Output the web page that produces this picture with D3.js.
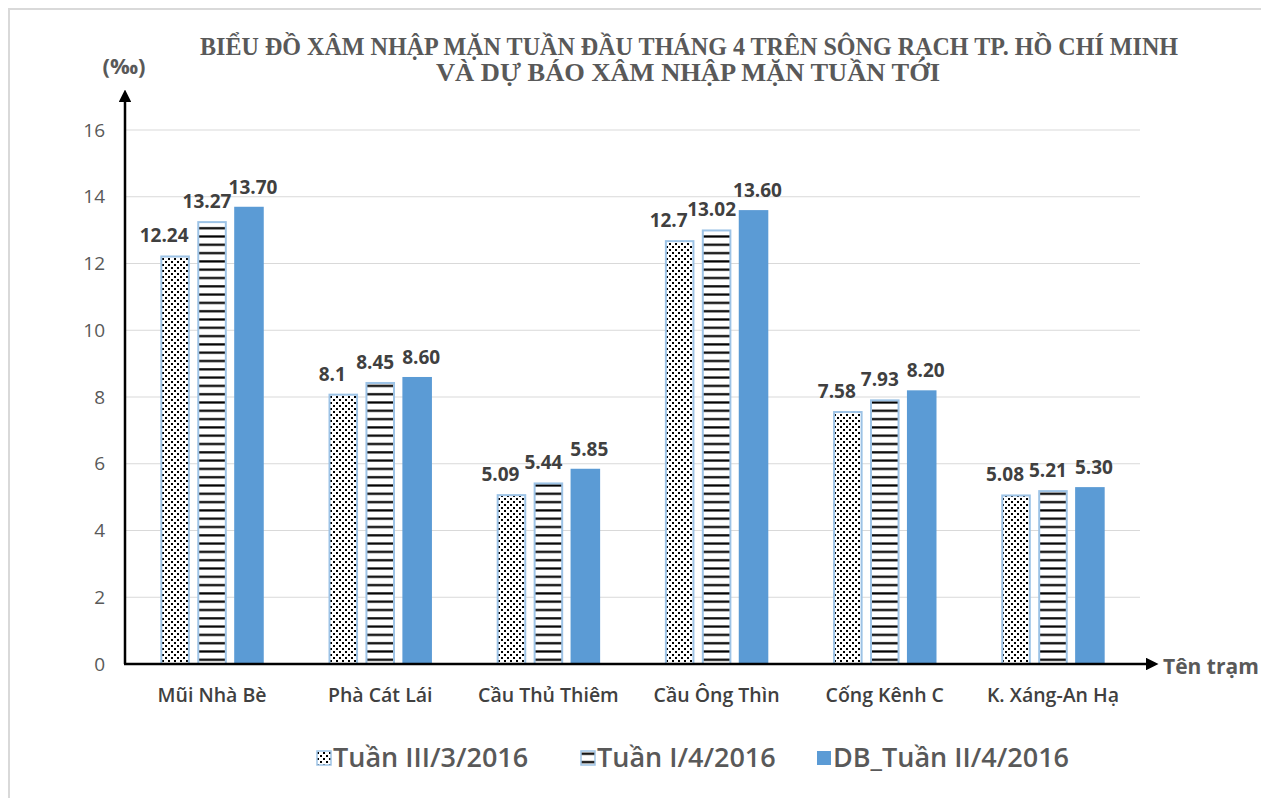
<!DOCTYPE html>
<html>
<head>
<meta charset="utf-8">
<script src="https://cdn.jsdelivr.net/npm/d3@7"></script>
<style>
  body { margin: 0; background: #fff; }
  svg { display: block; }
</style>
</head>
<body>
<svg id="chart" width="1261" height="798"></svg>
<script>
/* ── Data ─────────────────────────────────────────── */
const stations = ["Mũi Nhà Bè", "Phà Cát Lái", "Cầu Thủ Thiêm", "Cầu Ông Thìn", "Cống Kênh C", "K. Xáng-An Hạ"];
const seriesNames = ["Tuần III/3/2016", "Tuần I/4/2016", "DB_Tuần II/4/2016"];
const week3_3 = [12.24, 8.1, 5.09, 12.7, 7.58, 5.08];
const week1_4 = [13.27, 8.45, 5.44, 13.02, 7.93, 5.21];
const forecast = [13.70, 8.60, 5.85, 13.60, 8.20, 5.30];
const labels3_3 = ["12.24", "8.1", "5.09", "12.7", "7.58", "5.08"];
const labels1_4 = ["13.27", "8.45", "5.44", "13.02", "7.93", "5.21"];
const labelsFc = ["13.70", "8.60", "5.85", "13.60", "8.20", "5.30"];
const yTicks = [0, 2, 4, 6, 8, 10, 12, 14, 16];

(function () {
  const series = [
    { name: seriesNames[0], values: week3_3, labels: labels3_3, fill: "url(#dots)", stroke: "#9DC3E6", dx: -11 },
    { name: seriesNames[1], values: week1_4, labels: labels1_4, fill: "url(#stripes)", stroke: "#9DC3E6", dx: -5 },
    { name: seriesNames[2], values: forecast, labels: labelsFc, fill: "#5B9BD5", stroke: "none", dx: 4 }
  ];

  const svg = d3.select("#chart");
  const plotL = 125, plotR = 1140, plotT = 130, plotB = 664;
  const sans = "Open Sans, sans-serif";

  /* ── Patterns ───────────────────────────────────── */
  const defs = svg.append("defs");
  const dots = defs.append("pattern").attr("id", "dots")
    .attr("patternUnits", "userSpaceOnUse").attr("width", 6).attr("height", 6);
  dots.append("rect").attr("width", 6).attr("height", 6).attr("fill", "#fff");
  dots.append("rect").attr("x", 0).attr("y", 0).attr("width", 2).attr("height", 2).attr("fill", "#000");
  dots.append("rect").attr("x", 3).attr("y", 3).attr("width", 2).attr("height", 2).attr("fill", "#000");

  const stripes = defs.append("pattern").attr("id", "stripes")
    .attr("patternUnits", "userSpaceOnUse").attr("width", 8).attr("height", 8.3);
  stripes.append("rect").attr("width", 8).attr("height", 8.3).attr("fill", "#fff");
  stripes.append("rect").attr("x", 0).attr("y", 3).attr("width", 8).attr("height", 2.2).attr("fill", "#000");

  defs.append("marker").attr("id", "arrow")
    .attr("viewBox", "0 0 10 10").attr("refX", 0).attr("refY", 5)
    .attr("markerWidth", 5).attr("markerHeight", 5).attr("orient", "auto")
    .append("path").attr("d", "M0,0L10,5L0,10Z").attr("fill", "#000");

  /* ── Frame ──────────────────────────────────────── */
  svg.append("path")
    .attr("d", "M9,798V9H1261")
    .attr("fill", "none").attr("stroke", "#d9d9d9").attr("stroke-width", 2);

  /* ── Scales ─────────────────────────────────────── */
  const x0 = d3.scaleBand().domain(stations).range([plotL, plotR]).paddingInner(0.385).paddingOuter(0.21);
  const x1 = d3.scaleBand().domain(d3.range(3)).range([0, x0.bandwidth()]).paddingInner(0.2);
  const y = d3.scaleLinear().domain([0, 16]).range([plotB, plotT]);

  /* gridlines */
  svg.append("g").selectAll("line").data(yTicks.slice(1)).join("line")
    .attr("x1", plotL).attr("x2", plotR)
    .attr("y1", d => y(d)).attr("y2", d => y(d))
    .attr("stroke", "#d9d9d9").attr("stroke-width", 1);

  /* y tick labels */
  svg.append("g").selectAll("text").data(yTicks).join("text")
    .attr("x", 105).attr("y", d => y(d)).attr("dy", "0.35em")
    .attr("text-anchor", "end")
    .attr("font-family", sans).attr("font-size", 19)
    .attr("fill", "#595959").text(d => d);

  /* bars */
  const barsG = svg.append("g");
  series.forEach((s, i) => {
    const inset = s.stroke !== "none" ? 1 : 0;
    barsG.append("g").selectAll("rect").data(s.values).join("rect")
      .attr("x", (d, j) => x0(stations[j]) + x1(i) + inset)
      .attr("y", d => y(d) + inset)
      .attr("width", x1.bandwidth() - 2 * inset)
      .attr("height", d => plotB - y(d) - inset)
      .attr("fill", s.fill)
      .attr("stroke", s.stroke).attr("stroke-width", 2);
  });

  /* value labels */
  series.forEach((s, i) => {
    svg.append("g").selectAll("text").data(s.values).join("text")
      .attr("x", (d, j) => x0(stations[j]) + x1(i) + x1.bandwidth() / 2 + s.dx)
      .attr("y", d => y(d) - 13)
      .attr("text-anchor", "middle")
      .attr("font-family", sans).attr("font-weight", "bold")
      .attr("font-size", 19).attr("fill", "#404040")
      .text((d, j) => s.labels[j]);
  });

  /* axes with arrows */
  svg.append("line")
    .attr("x1", plotL).attr("y1", plotB).attr("x2", plotL).attr("y2", 102)
    .attr("stroke", "#000").attr("stroke-width", 2.5).attr("marker-end", "url(#arrow)");
  svg.append("line")
    .attr("x1", plotL - 1).attr("y1", plotB).attr("x2", 1146).attr("y2", plotB)
    .attr("stroke", "#000").attr("stroke-width", 2.5).attr("marker-end", "url(#arrow)");

  svg.append("text").attr("x", 1163).attr("y", 667).attr("dy", "0.35em")
    .attr("font-family", sans).attr("font-weight", "bold")
    .attr("font-size", 21).attr("fill", "#595959").text("Tên trạm");

  svg.append("text").attr("x", 124).attr("y", 66).attr("dy", "0.35em")
    .attr("text-anchor", "middle")
    .attr("font-family", sans).attr("font-weight", "bold")
    .attr("font-size", 22).attr("fill", "#595959").text("(‰)");

  /* category labels */
  svg.append("g").selectAll("text").data(stations).join("text")
    .attr("x", d => x0(d) + x0.bandwidth() / 2).attr("y", 695).attr("dy", "0.35em")
    .attr("text-anchor", "middle")
    .attr("font-family", sans).attr("font-weight", 600)
    .attr("font-size", 19.5).attr("fill", "#404040").text(d => d);

  /* title — condensed serif, squeezed to the reference width */
  const title = svg.append("g")
    .attr("font-family", "Liberation Serif, Times New Roman, serif")
    .attr("font-weight", "bold").attr("fill", "#595959").attr("font-size", 24.5)
    .attr("text-anchor", "middle");
  title.append("text").attr("x", 689).attr("y", 55)
    .attr("textLength", 978).attr("lengthAdjust", "spacingAndGlyphs")
    .text("BIỂU ĐỒ XÂM NHẬP MẶN TUẦN ĐẦU THÁNG 4 TRÊN SÔNG RẠCH TP. HỒ CHÍ MINH");
  title.append("text").attr("x", 688).attr("y", 81)
    .attr("textLength", 504).attr("lengthAdjust", "spacingAndGlyphs")
    .text("VÀ DỰ BÁO XÂM NHẬP MẶN TUẦN TỚI");

  /* legend */
  const legendX = [317, 581, 817];
  const legend = svg.append("g");
  series.forEach((s, i) => {
    const g = legend.append("g").attr("transform", `translate(${legendX[i]},758)`);
    g.append("rect").attr("x", 0).attr("y", -7).attr("width", 14).attr("height", 14)
      .attr("fill", s.fill).attr("stroke", s.stroke === "none" ? "none" : "#9DC3E6").attr("stroke-width", 1.5);
    g.append("text").attr("x", 16).attr("y", 0).attr("dy", "0.35em")
      .attr("font-family", sans).attr("font-weight", 600)
      .attr("font-size", 27).attr("fill", "#595959").text(s.name);
  });
})();
</script>
</body>
</html>
